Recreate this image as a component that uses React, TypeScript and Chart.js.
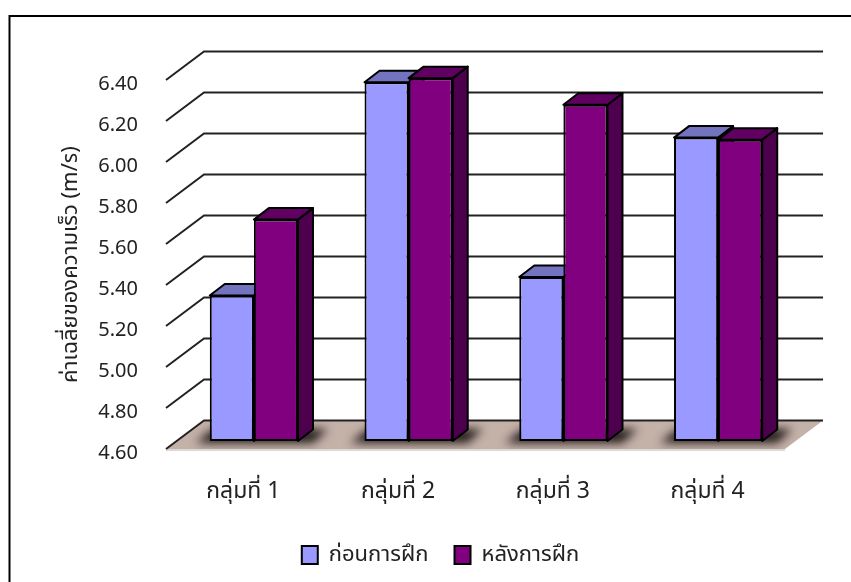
import React, { useEffect, useRef } from "react";
import { Chart, registerables } from "chart.js";

Chart.register(...registerables);

const categories = ["กลุ่มที่ 1", "กลุ่มที่ 2", "กลุ่มที่ 3", "กลุ่มที่ 4"];
const beforeTraining = [5.31, 6.35, 5.4, 6.08];
const afterTraining = [5.68, 6.37, 6.24, 6.07];
const seriesNames = ["ก่อนการฝึก", "หลังการฝึก"];
const axisTitle = "ค่าเฉลี่ยของความเร็ว (m/s)";
const AXIS_MIN = 4.6;
const AXIS_MAX = 6.4;

const FONT = "'Noto Sans', 'Noto Sans Thai', Tahoma, sans-serif";
const TEXT = "#222";

// Projection of the 3D box: wall depth, and where the bars stand on the floor.
const WALL = { dx: 38, dy: -28.5 };
const BAR_PLANE = { dx: 10.5, dy: -8 };
const BAR_DEPTH = { dx: 15, dy: -11.5 };

const faceColors = [
  { top: "#7373BF", side: "#4D4D80" },
  { top: "#600060", side: "#4D004D" },
];

function poly(ctx: CanvasRenderingContext2D, pts: number[][]) {
  ctx.beginPath();
  pts.forEach(([x, y], i) => (i ? ctx.lineTo(x, y) : ctx.moveTo(x, y)));
  ctx.closePath();
}

const frame3d = {
  id: "frame3d",
  afterLayout(chart: any) {
    // Centre the legend under the whole plot, including the back wall.
    chart.legend.left += 48;
    chart.legend.right += 48;
    chart.legend.top -= 6;
    chart.legend.bottom -= 6;
  },
  beforeDraw(chart: any) {
    const { ctx, width, height } = chart;
    ctx.save();
    ctx.fillStyle = "#fff";
    ctx.fillRect(0, 0, width, height);
    ctx.strokeStyle = "#000";
    ctx.lineWidth = 2;
    ctx.beginPath();
    ctx.moveTo(9.5, height);
    ctx.lineTo(9.5, 16);
    ctx.lineTo(width, 16);
    ctx.stroke();
    ctx.restore();
  },
  beforeDatasetsDraw(chart: any) {
    const { ctx, chartArea: a, scales } = chart;
    const y = scales.y;
    const floorY = y.getPixelForValue(y.min);
    ctx.save();

    // Floor
    const floor = [
      [a.left, floorY],
      [a.left + WALL.dx, floorY + WALL.dy],
      [a.right + WALL.dx, floorY + WALL.dy],
      [a.right, floorY],
    ];
    ctx.strokeStyle = "#dcd8d6";
    ctx.lineWidth = 2;
    ctx.beginPath();
    ctx.moveTo(a.left, floorY + 1);
    ctx.lineTo(a.right, floorY + 1);
    ctx.stroke();
    poly(ctx, floor);
    ctx.fillStyle = "#C4B1A8";
    ctx.fill();

    // Soft shadows cast on the floor by each group of bars
    const metas = [chart.getDatasetMeta(0), chart.getDatasetMeta(1)];
    ctx.save();
    poly(ctx, floor);
    ctx.clip();
    ctx.filter = "blur(5px)";
    ctx.fillStyle = "rgba(25,18,18,0.95)";
    metas[0].data.forEach((el: any, i: number) => {
      const l = el.x - el.width / 2 + BAR_PLANE.dx;
      const r = metas[1].data[i].x + metas[1].data[i].width / 2 + BAR_PLANE.dx;
      const b = floorY + BAR_PLANE.dy;
      poly(ctx, [
        [l - 14, b + 2],
        [l + 2, b - 11],
        [r + 30, b - 12],
        [r + 15, b + 2],
      ]);
      ctx.fill();
    });
    ctx.restore();

    // Gridlines along the left and back walls
    ctx.strokeStyle = "#222";
    ctx.lineCap = "butt";
    y.ticks.forEach((t: any) => {
      const py = y.getPixelForValue(t.value);
      ctx.lineWidth = 2;
      ctx.beginPath();
      ctx.moveTo(a.left, py);
      ctx.lineTo(a.left + WALL.dx, py + WALL.dy);
      ctx.lineTo(a.right + WALL.dx, py + WALL.dy);
      ctx.stroke();
    });

    // Top and side faces of the bars; the front faces are the chart's own bars
    ctx.strokeStyle = "#000";
    ctx.lineWidth = 2;
    ctx.lineJoin = "round";
    metas.forEach((meta: any, s: number) => {
      meta.data.forEach((el: any) => {
        const l = el.x - el.width / 2 + BAR_PLANE.dx;
        const r = el.x + el.width / 2 + BAR_PLANE.dx;
        const t = el.y + BAR_PLANE.dy;
        const b = el.base + BAR_PLANE.dy;
        poly(ctx, [
          [r, t],
          [r + BAR_DEPTH.dx, t + BAR_DEPTH.dy],
          [r + BAR_DEPTH.dx, b + BAR_DEPTH.dy],
          [r, b],
        ]);
        ctx.fillStyle = faceColors[s].side;
        ctx.fill();
        ctx.stroke();
        poly(ctx, [
          [l, t],
          [l + BAR_DEPTH.dx, t + BAR_DEPTH.dy],
          [r + BAR_DEPTH.dx, t + BAR_DEPTH.dy],
          [r, t],
        ]);
        ctx.fillStyle = faceColors[s].top;
        ctx.fill();
        ctx.stroke();
      });
    });
    ctx.restore();
  },
  beforeDatasetDraw(chart: any) {
    chart.ctx.save();
    chart.ctx.translate(BAR_PLANE.dx, BAR_PLANE.dy);
  },
  afterDatasetDraw(chart: any) {
    chart.ctx.restore();
  },
};

function clearOverhang(scale: any) {
  scale.paddingTop = 0;
  scale.paddingBottom = 0;
  scale.paddingLeft = 0;
  scale.paddingRight = 0;
}

export default function App() {
  const ref = useRef<HTMLCanvasElement>(null);

  useEffect(() => {
    const chart = new Chart(ref.current!, {
      type: "bar",
      data: {
        labels: categories,
        datasets: [
          {
            label: seriesNames[0],
            data: beforeTraining,
            base: AXIS_MIN,
            backgroundColor: "#9999FF",
            borderColor: "#000",
            borderWidth: 2,
            borderSkipped: false,
            categoryPercentage: 0.57,
            barPercentage: 1,
            clip: false,
          },
          {
            label: seriesNames[1],
            data: afterTraining,
            base: AXIS_MIN,
            backgroundColor: "#800080",
            borderColor: "#000",
            borderWidth: 2,
            borderSkipped: false,
            categoryPercentage: 0.57,
            barPercentage: 1,
            clip: false,
          },
        ],
      },
      options: {
        animation: false,
        responsive: false,
        layout: { padding: { top: 80, right: 66, bottom: 0, left: 0 } },
        plugins: {
          tooltip: { enabled: false },
          legend: {
            position: "bottom",
            labels: {
              boxWidth: 16,
              boxHeight: 18,
              padding: 26,
              color: TEXT,
              font: { family: FONT, size: 22 },
            },
          },
        },
        scales: {
          x: {
            grid: { display: false },
            border: { display: false },
            ticks: {
              color: TEXT,
              font: { family: FONT, size: 23 },
              padding: 21,
              maxRotation: 0,
            },
            afterFit(scale: any) {
              scale.height = 75;
              clearOverhang(scale);
            },
          },
          y: {
            min: AXIS_MIN,
            max: AXIS_MAX,
            grid: { display: false },
            border: { display: false },
            ticks: {
              stepSize: 0.2,
              color: TEXT,
              font: { family: FONT, size: 20 },
              padding: 20,
              labelOffset: 4,
              callback: (v: any) => Number(v).toFixed(2),
            },
            title: {
              display: true,
              text: axisTitle,
              color: TEXT,
              font: { family: FONT, size: 22, weight: "normal" },
              padding: { top: 58, bottom: 0 },
            },
            afterFit(scale: any) {
              scale.width = 166;
              clearOverhang(scale);
            },
          },
        },
      },
      plugins: [frame3d],
    } as any);
    return () => chart.destroy();
  }, []);

  return (
    <div style={{ position: "fixed", inset: 0, background: "#fff" }}>
      <canvas ref={ref} width={851} height={582} style={{ display: "block" }} />
    </div>
  );
}
